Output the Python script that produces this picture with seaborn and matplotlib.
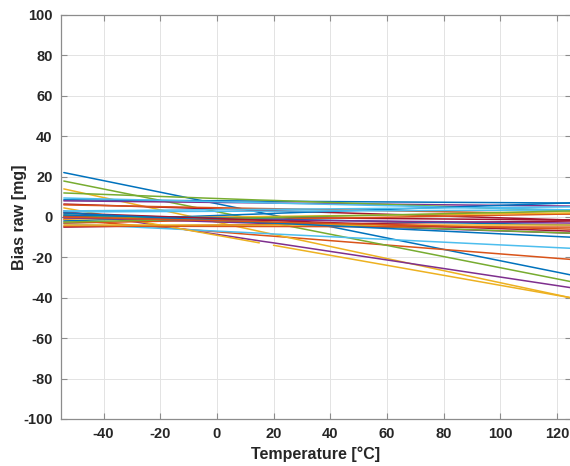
import numpy as np
import pandas as pd
import matplotlib
matplotlib.use("Agg")
import matplotlib.pyplot as plt
import seaborn as sns

# Temperature points [°C]: start, before gap, after gap, end
temps = [-54, 15, 20, 125]

# Bias values [mg] per sensor read at those temperatures
bias_m54 = [22.0, -1.3, 13.9, 3.0, 17.8, -3.3, 6.4, 8.5, 6.0, 4.5,
            8.0, 11.9, 9.4, 0.5, -2.0, -3.0, -1.0, 0.0, 1.0, 2.5,
            -5.0, 1.0, -4.5, -4.0, -0.5, -2.5, 3.0, 2.0, 2.0, 0.0]
bias_p15 = [2.3, -9.0, -7.1, -11.8, -1.6, -8.0, 3.3, 7.9, 4.2, -12.8,
            7.0, 8.4, 7.1, -0.3, 1.5, -1.2, 0.2, -3.1, -2.5, 2.9,
            -3.8, -0.9, -4.7, -4.0, -1.5, -0.4, 3.8, -1.5, -2.7, -2.3]
bias_p20 = [0.9, -9.5, -8.6, -12.8, -3.0, -8.4, 3.1, 7.8, 4.1, -14.0,
            6.9, 8.2, 6.9, -0.3, 1.8, -1.1, 0.3, -3.3, -2.8, 2.9,
            -3.7, -1.1, -4.7, -4.0, -1.5, -0.2, 3.8, -1.8, -3.0, -2.5]
bias_p125 = [-28.7, -21.0, -40.0, -35.0, -32.0, -15.5, -1.5, 6.9, 1.5, -40.0,
             5.4, 3.0, 3.5, -1.5, 7.0, 1.5, 2.0, -8.0, -8.0, 3.5,
             -2.0, -4.0, -5.0, -4.0, -3.0, 3.0, 5.0, -7.0, -10.0, -6.0]
# sensors whose record has a gap between 15 and 20 °C
gap_sensors = [9]

x_ticks = [-40, -20, 0, 20, 40, 60, 80, 100, 120]
y_ticks = [-100, -80, -60, -40, -20, 0, 20, 40, 60, 80, 100]

rows = []
for i in range(len(bias_m54)):
    vals = [bias_m54[i], bias_p15[i], bias_p20[i], bias_p125[i]]
    for k, (t, v) in enumerate(zip(temps, vals)):
        seg = ("a" if k < 2 else "b") if i in gap_sensors else "a"
        rows.append((i, seg, t, v))
df = pd.DataFrame(rows, columns=["sensor", "segment", "temp", "bias"])

matlab = ["#0072BD", "#D95319", "#EDB120", "#7E2F8E", "#77AC30", "#4DBEEE", "#A2142F"]
n = len(bias_m54)
palette = {i: matlab[i % 7] for i in range(n)}

sns.set_style("white")
plt.rcParams["font.family"] = ["Liberation Sans", "DejaVu Sans"]

fig = plt.figure(figsize=(5.70, 4.66), dpi=100)
ax = fig.add_axes([61 / 570, 47 / 466, 510 / 570, 404 / 466])

sns.lineplot(data=df, x="temp", y="bias", hue="sensor", units="segment",
             estimator=None, palette=palette, hue_order=list(range(n)),
             linewidth=1.1, legend=False, ax=ax, sort=False)

ax.set_xlim(-55, 125)
ax.set_ylim(-100, 100)
ax.set_xticks(x_ticks)
ax.set_yticks(y_ticks)
ax.set_xticklabels([str(t) for t in x_ticks], fontweight="bold", fontsize=10.5, color="#262626")
ax.set_yticklabels([str(t) for t in y_ticks], fontweight="bold", fontsize=10.5, color="#262626")
ax.grid(True, color="#e3e3e3", linewidth=0.7)
ax.set_axisbelow(True)
for s in ax.spines.values():
    s.set_color("#8c8c8c")
    s.set_linewidth(0.9)
ax.tick_params(direction="in", length=4, color="#8c8c8c", top=True, right=True,
               bottom=True, left=True, pad=6)
ax.set_xlabel("Temperature [°C]", fontweight="bold", fontsize=11.5, color="#262626", labelpad=4)
ax.set_ylabel("Bias raw [mg]", fontweight="bold", fontsize=11.5, color="#262626")
ax.yaxis.set_label_coords(-0.067, 0.5)

fig.savefig("out.png", dpi=100)
